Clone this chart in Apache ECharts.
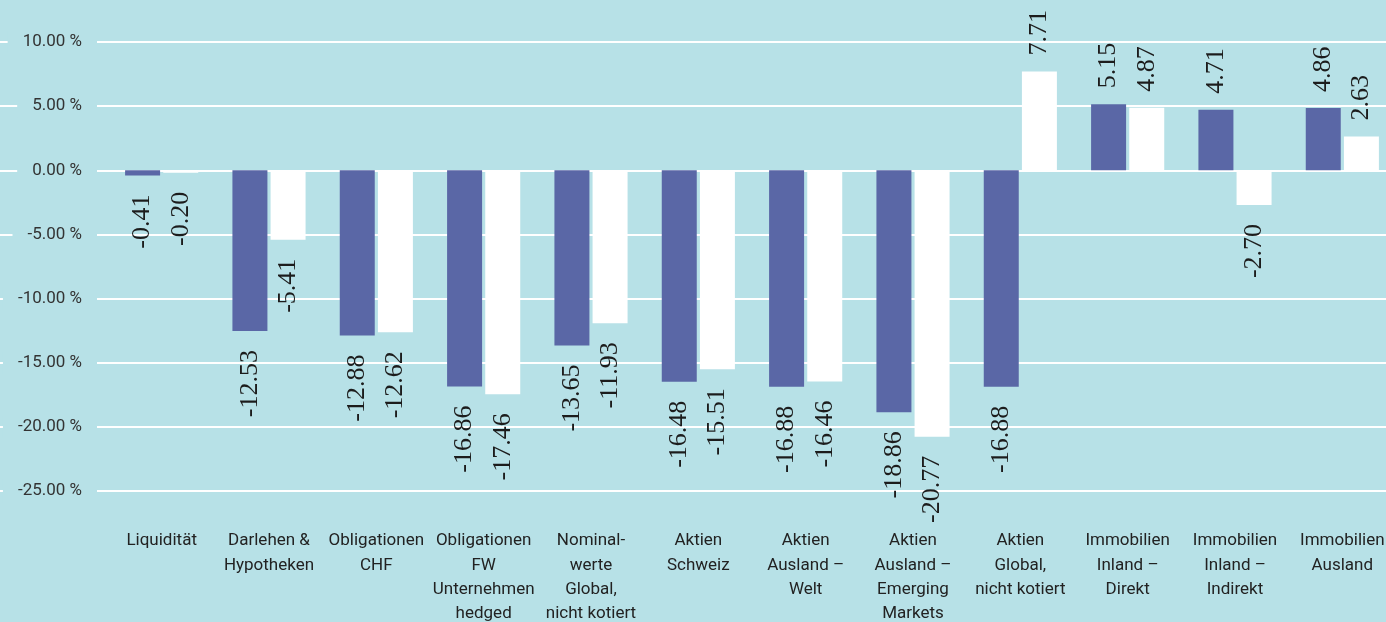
<!DOCTYPE html>
<html>
<head>
<meta charset="utf-8">
<script src="https://cdn.jsdelivr.net/npm/echarts@6/dist/echarts.min.js"></script>
<style>
  html, body { margin: 0; padding: 0; background: #b7e1e7; }
  #chart { width: 1386px; height: 622px; }
</style>
</head>
<body>
<div id="chart"></div>
<script>
// categories (line breaks as in the original)
const categories = [
    'Liquidität',
    'Darlehen &\nHypotheken',
    'Obligationen\nCHF',
    'Obligationen\nFW\nUnternehmen\nhedged',
    'Nominal-\nwerte\nGlobal,\nnicht kotiert',
    'Aktien\nSchweiz',
    'Aktien\nAusland –\nWelt',
    'Aktien\nAusland –\nEmerging\nMarkets',
    'Aktien\nGlobal,\nnicht kotiert',
    'Immobilien\nInland –\nDirekt',
    'Immobilien\nInland –\nIndirekt',
    'Immobilien\nAusland'
];
const darkValues = [-0.41, -12.53, -12.88, -16.86, -13.65, -16.48, -16.88, -18.86, -16.88, 5.15, 4.71, 4.86];
const whiteValues = [-0.20, -5.41, -12.62, -17.46, -11.93, -15.51, -16.46, -20.77, 7.71, 4.87, -2.70, 2.63];
const yMin = -25, yMax = 10, yStep = 5;

const bg = '#b7e1e7';
const chart = echarts.init(document.getElementById('chart'), null, { renderer: 'canvas' });

// rotated value label, below for negatives and above for positives
function withLabels(values) {
    return values.map(function (v) {
        const neg = v < 0;
        return {
            value: v,
            label: {
                show: true,
                position: neg ? 'bottom' : 'top',
                distance: neg ? 19 : 16,
                rotate: 90,
                align: neg ? 'right' : 'left',
                verticalAlign: 'middle',
                formatter: v.toFixed(2),
                fontFamily: 'Liberation Serif',
                fontSize: 26,
                color: '#1c1c1c'
            }
        };
    });
}

const option = {
    backgroundColor: bg,
    animation: false,
    grid: [
        { left: 0, right: 0, top: 42, bottom: 131, outerBoundsMode: 'none' },
        { left: 108, width: 1288, top: 42, bottom: 131, outerBoundsMode: 'none' }
    ],
    xAxis: [
        { gridIndex: 0, type: 'category', data: categories, show: false },
        {
            gridIndex: 1,
            type: 'category',
            data: categories,
            axisLine: { show: false },
            axisTick: { show: false },
            splitLine: { show: false },
            axisLabel: {
                interval: 0,
                margin: 38,
                fontFamily: 'Roboto',
                fontSize: 17,
                lineHeight: 24.3,
                color: '#222'
            }
        }
    ],
    yAxis: [
        {
            gridIndex: 0,
            type: 'value',
            min: yMin,
            max: yMax,
            interval: yStep,
            offset: -97,
            axisLine: { show: false },
            axisTick: { show: false },
            splitLine: { lineStyle: { color: '#ffffff', width: 2 } },
            axisLabel: {
                margin: 0,
                padding: [3, 15, 3, 15],
                backgroundColor: bg,
                fontFamily: 'Roboto',
                fontSize: 17,
                color: '#333',
                formatter: function (v) { return v.toFixed(2) + ' %'; }
            }
        },
        { gridIndex: 1, type: 'value', min: yMin, max: yMax, interval: yStep, show: false }
    ],
    series: [
        {
            type: 'bar',
            xAxisIndex: 1,
            yAxisIndex: 1,
            barWidth: 35,
            barGap: '9%',
            itemStyle: { color: '#5a67a6' },
            data: withLabels(darkValues)
        },
        {
            type: 'bar',
            xAxisIndex: 1,
            yAxisIndex: 1,
            barWidth: 35,
            itemStyle: { color: '#ffffff' },
            data: withLabels(whiteValues)
        }
    ]
};
chart.setOption(option);
</script>
</body>
</html>
